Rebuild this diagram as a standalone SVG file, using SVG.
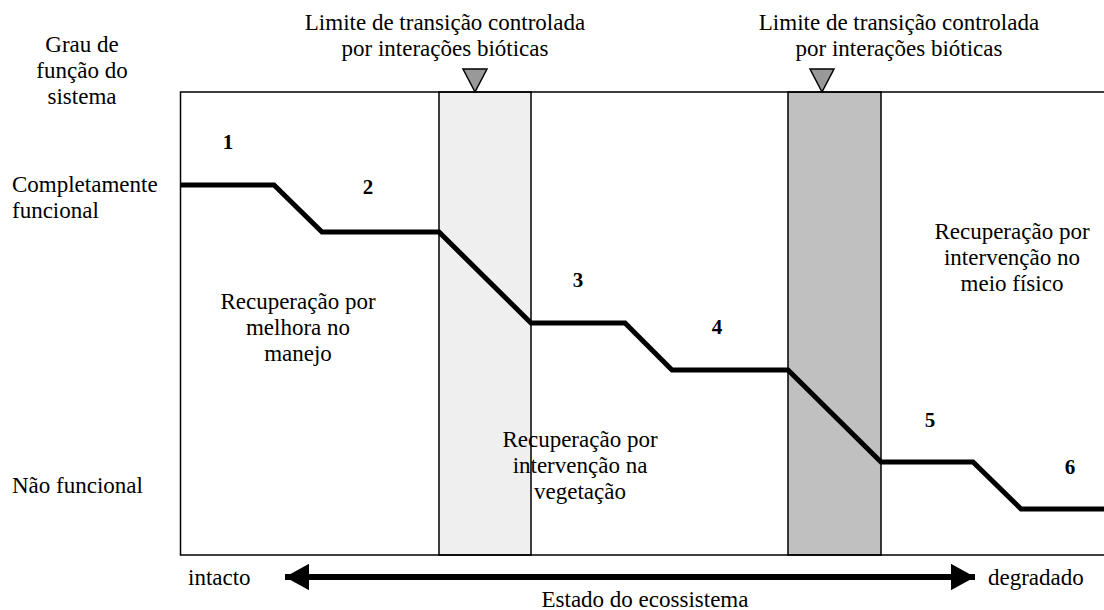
<svg xmlns="http://www.w3.org/2000/svg" width="1104" height="610" viewBox="0 0 1104 610" font-family="'Liberation Serif', 'Times New Roman', 'DejaVu Serif', serif">
<style>
text{font-family:"Liberation Serif","Times New Roman","DejaVu Serif",serif;font-size:23px;fill:#000}
.c{text-anchor:middle}
.n{font-weight:bold;font-size:21px;text-anchor:middle}
.frame{fill:none;stroke:#000;stroke-width:1.5}
.tri{fill:#999;stroke:#000;stroke-width:1.5}
</style>
<defs>
<marker id="ah" markerWidth="4" markerHeight="4.4" refX="4" refY="2.2" orient="auto-start-reverse" markerUnits="strokeWidth" viewBox="0 0 4 4.4"><path d="M0,0 L4,2.2 L0,4.4 Z" fill="#000"/></marker>
</defs>
<rect width="1104" height="610" fill="#fff"/>
<g id="bands">
<rect x="439" y="92" width="92" height="463" fill="#efefef" stroke="#000" stroke-width="1.5"/>
<rect x="788" y="92" width="93" height="463" fill="#c0c0c0" stroke="#000" stroke-width="1.5"/>
</g>
<g id="frame">
<path class="frame" d="M1104,92 H180.5 V555 H1104"/>
</g>
<g id="markers">
<path class="tri" d="M463,69 H487 L475,92 Z"/>
<path class="tri" d="M810,69 H834 L822,92 Z"/>
</g>
<g id="connectors">
<polyline points="180,185 274,185 322,232 439,232 531,323 625,323 672,370 788,370 881,462 973,462 1021,509 1104,509" fill="none" stroke="#000" stroke-width="5"/>
<line x1="285" y1="577" x2="975" y2="577" stroke="#000" stroke-width="6" marker-start="url(#ah)" marker-end="url(#ah)"/>
</g>
<g id="axis-labels">
<text class="c" x="82" y="52">Grau de</text>
<text class="c" x="82" y="78">função do</text>
<text class="c" x="82" y="104">sistema</text>
<text x="12" y="192">Completamente</text>
<text x="12" y="218">funcional</text>
<text x="12" y="493">Não funcional</text>
<text x="188" y="585">intacto</text>
<text x="988" y="585">degradado</text>
<text class="c" x="645" y="607">Estado do ecossistema</text>
</g>
<g id="limit1">
<text class="c" x="445" y="30">Limite de transição controlada</text>
<text class="c" x="445" y="56">por interações bióticas</text>
</g>
<g id="limit2">
<text class="c" x="899" y="30">Limite de transição controlada</text>
<text class="c" x="899" y="56">por interações bióticas</text>
</g>
<g id="numbers">
<text class="n" x="228" y="149">1</text>
<text class="n" x="368" y="194">2</text>
<text class="n" x="578" y="287">3</text>
<text class="n" x="717" y="334">4</text>
<text class="n" x="930" y="427">5</text>
<text class="n" x="1070" y="474">6</text>
</g>
<g id="region1">
<text class="c" x="298" y="309">Recuperação por</text>
<text class="c" x="298" y="335">melhora no</text>
<text class="c" x="298" y="361">manejo</text>
</g>
<g id="region2">
<text class="c" x="580" y="447">Recuperação por</text>
<text class="c" x="580" y="473">intervenção na</text>
<text class="c" x="580" y="499">vegetação</text>
</g>
<g id="region3">
<text class="c" x="1012" y="239">Recuperação por</text>
<text class="c" x="1012" y="265">intervenção no</text>
<text class="c" x="1012" y="291">meio físico</text>
</g>
</svg>
